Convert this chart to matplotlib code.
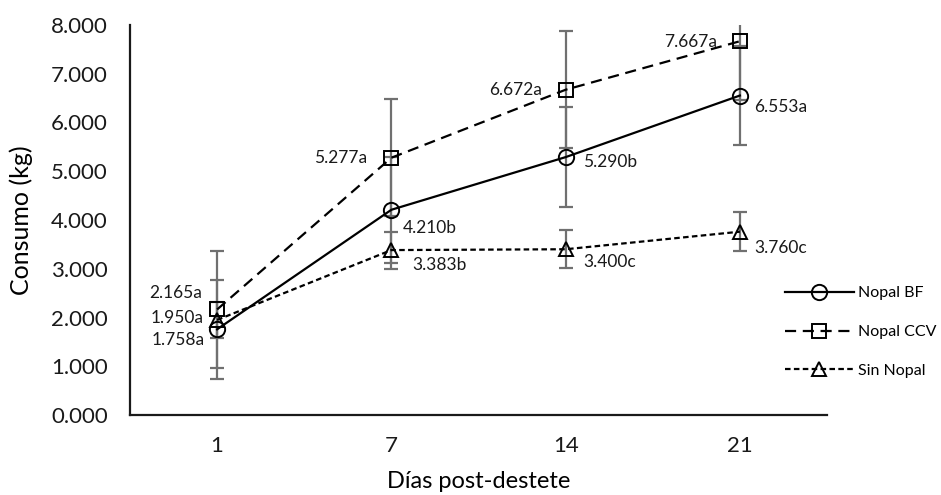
import matplotlib
matplotlib.use('Agg')
import matplotlib.pyplot as plt
from matplotlib.ticker import FuncFormatter

plt.rcParams['font.family'] = ['Lato', 'DejaVu Sans']

# datos
dias = ['1', '7', '14', '21']
nopal_bf = [1.758, 4.210, 5.290, 6.553]
nopal_ccv = [2.165, 5.277, 6.672, 7.667]
sin_nopal = [1.950, 3.383, 3.400, 3.760]
err_bf = [1.01, 1.09, 1.03, 1.01]
err_ccv = [1.20, 1.20, 1.20, 1.20]
err_sin = [0.37, 0.38, 0.39, 0.40]
lab_bf = ['1.758a', '4.210b', '5.290b', '6.553a']
lab_ccv = ['2.165a', '5.277a', '6.672a', '7.667a']
lab_sin = ['1.950a', '3.383b', '3.400c', '3.760c']

x = list(range(len(dias)))

fig = plt.figure(figsize=(9.41, 4.95), dpi=100)
ax = fig.add_axes([130 / 941, 1 - 415 / 495, 697 / 941, 390 / 495])

# barras de error (gris, debajo de las lineas)
for vals, errs in [(nopal_bf, err_bf), (nopal_ccv, err_ccv), (sin_nopal, err_sin)]:
    ax.errorbar(x, vals, yerr=errs, fmt='none', ecolor='#707070',
                elinewidth=1.6, capsize=5, capthick=1.6, zorder=1)

ax.plot(x, nopal_bf, color='black', lw=1.6, ls='-', marker='o', ms=11,
        mfc='none', mec='black', mew=1.4, label='Nopal BF', zorder=3)
ax.plot(x, nopal_ccv, color='black', lw=1.6, ls=(0, (5, 3)), marker='s', ms=10,
        mfc='none', mec='black', mew=1.4, label='Nopal CCV', zorder=3)
ax.plot(x, sin_nopal, color='black', lw=1.6, ls=(0, (2.5, 1.5)), marker='^', ms=10,
        mfc='none', mec='black', mew=1.4, label='Sin Nopal', zorder=3)

# etiquetas de valores (desplazamientos en pixeles)
off_bf = [(-12, -11, 'right'), (11, -18, 'left'), (17, -5, 'left'), (14, -11, 'left')]
off_ccv = [(-15, 16, 'right'), (-24, 0, 'right'), (-24, 0, 'right'), (-23, -1, 'right')]
off_sin = [(-14, 2, 'right'), (21, -15, 'left'), (18, -13, 'left'), (14, -16, 'left')]
for vals, labs, offs in [(nopal_bf, lab_bf, off_bf), (nopal_ccv, lab_ccv, off_ccv),
                         (sin_nopal, lab_sin, off_sin)]:
    for i in range(len(vals)):
        dx, dy, ha = offs[i]
        ax.annotate(labs[i], (x[i], vals[i]), xytext=(dx, dy), textcoords='offset pixels',
                    ha=ha, va='center', fontsize=12.5, color='#1a1a1a')

ax.set_xlim(-0.5, 3.5)
ax.set_ylim(0, 8)
ax.set_yticks([0, 1, 2, 3, 4, 5, 6, 7, 8])
ax.yaxis.set_major_formatter(FuncFormatter(lambda v, p: '{:.3f}'.format(v)))
ax.set_xticks(x)
ax.set_xticklabels(dias)
ax.tick_params(axis='both', length=0, labelsize=16, colors='#1a1a1a')
ax.tick_params(axis='y', pad=16)
ax.tick_params(axis='x', pad=15)

for s in ['top', 'right']:
    ax.spines[s].set_visible(False)
for s in ['left', 'bottom']:
    ax.spines[s].set_linewidth(1.6)
    ax.spines[s].set_color('#1a1a1a')

ax.set_ylabel('Consumo (kg)', fontsize=18, labelpad=13)
ax.set_xlabel('Días post-destete', fontsize=17, labelpad=11)

fig.legend(loc='upper left', bbox_to_anchor=(785 / 941, 1 - 286 / 495), frameon=False,
           fontsize=11.5, handlelength=4.3, handletextpad=0.3, labelspacing=1.55,
           borderpad=0, borderaxespad=0, numpoints=1)

fig.savefig('out.png', dpi=100)
